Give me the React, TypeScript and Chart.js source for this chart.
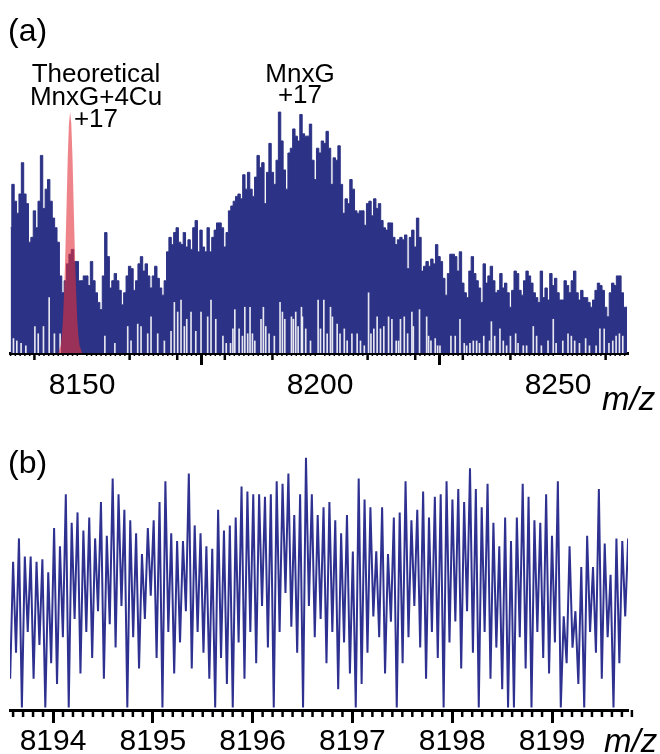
import React, { useEffect, useRef } from 'react';
import { Chart, registerables } from 'chart.js';
Chart.register(...registerables);

// ---------- Panel (a) data ----------
const aStart = 8135.0;
const aStep = 0.5;
const aEnvelope = [
  52, 70, 63, 58, 66, 79, 66, 62, 46, 48,
  59, 52, 63, 82, 60, 68, 72, 63, 56, 52,
  46, 32, 25, 30, 37, 41, 43, 38, 38, 30,
  30, 32, 32, 28, 38, 30, 25, 21, 18, 32,
  50, 40, 27, 30, 33, 30, 26, 20, 25, 32,
  36, 35, 26, 30, 37, 40, 34, 37, 32, 27,
  32, 36, 31, 27, 24, 30, 42, 48, 45, 50,
  52, 46, 45, 50, 44, 47, 43, 52, 55, 42,
  51, 44, 42, 52, 42, 48, 51, 54,
  54, 52, 44, 50, 59, 61, 63, 65, 66, 64, 74, 68,
  75, 68, 65, 73, 82, 77, 79, 62, 75, 87,
  75, 70, 80, 100, 88, 76, 68, 83, 85, 93,
  90, 88, 99, 91, 90, 90, 95, 80, 72, 85,
  83, 88, 87, 92, 85, 70, 81, 80, 86, 70,
  58, 64, 62, 72, 68, 59, 58, 59, 59, 53,
  62, 63, 57, 64, 60, 62, 55, 52, 51, 54,
  54, 48, 45, 47, 48, 47, 49, 35, 48, 51,
  44, 56, 48, 34,
  36, 38, 36, 39, 37, 45, 40, 38, 31, 24,
  33, 41, 41, 40, 34, 42, 29, 25, 23, 34,
  40, 33, 30, 27, 21, 37, 29, 32, 36, 30,
  25, 26, 33, 27, 29, 25, 19, 26, 34, 33,
  26, 24, 30, 34, 32, 29, 25, 23, 21, 34,
  23, 27, 22, 33, 28, 31, 25, 22, 22, 30,
  28, 25, 30, 34, 25, 22, 26, 23, 23, 21,
  19, 22, 26, 29, 28, 26, 19, 15, 25, 29,
  28, 32, 32, 25, 19, 19,
];
const aGapMz = [
  8135.6, 8136.3, 8137.2, 8138.2, 8140.1, 8140.8, 8141.9, 8143.1, 8144.2, 8145.4,
  8154.8, 8156.9, 8159.6, 8160.3, 8161.7, 8162.4, 8163.8, 8164.5, 8165.9, 8167.3,
  8168.7, 8169.4, 8170.1, 8170.8, 8171.5, 8172.0, 8172.9, 8173.9, 8175.0, 8176.4,
  8177.1, 8178.1, 8179.6, 8180.3, 8181.2, 8181.7, 8182.1, 8183.0, 8183.7, 8184.2,
  8184.8, 8185.3, 8185.8, 8186.3, 8187.6, 8188.1, 8188.6, 8189.3, 8190.4, 8191.6,
  8192.1, 8192.6, 8194.0, 8194.4, 8194.9, 8195.4, 8196.1, 8196.3, 8197.0, 8198.0,
  8199.6, 8200.1, 8200.8, 8201.5, 8202.2, 8202.6, 8203.6, 8204.2, 8205.1, 8205.7,
  8206.7, 8207.8, 8208.5, 8209.3, 8210.2, 8210.7, 8211.3, 8212.0, 8212.7, 8213.4,
  8214.4, 8215.1, 8216.0, 8216.5, 8216.9, 8217.7, 8218.4, 8219.3, 8219.6, 8220.9,
  8222.4, 8222.8, 8223.3, 8224.2, 8224.7, 8225.2, 8227.5, 8228.4, 8229.4, 8230.3,
  8230.8, 8231.5, 8232.2, 8232.9, 8233.5, 8234.4, 8235.6, 8236.0, 8236.7, 8237.8,
  8238.5, 8239.2, 8240.0, 8241.1, 8241.6, 8242.7, 8243.4, 8244.8, 8245.5, 8246.5,
  8247.9, 8249.0, 8249.6, 8251.0, 8252.1, 8252.8, 8253.5, 8254.5, 8255.8, 8256.6,
  8258.0, 8258.8, 8259.7, 8260.7, 8261.5, 8262.2, 8262.9, 8263.6,
];
const aGapH = [
  6, 5, 4, 3, 11, 8, 11, 23, 8, 8,
  7, 4, 11, 5, 12, 11, 8, 15, 8, 5,
  9, 21, 17, 22, 11, 14, 17, 9, 17, 15,
  22, 14, 7, 4, 4, 10, 18, 10, 7, 19,
  8, 19, 8, 5, 14, 19, 11, 8, 7, 21,
  17, 14, 15, 14, 17, 11, 19, 15, 10, 5,
  22, 10, 22, 8, 19, 15, 12, 8, 10, 5,
  8, 8, 5, 3, 25, 8, 10, 15, 10, 11,
  15, 14, 5, 5, 14, 15, 8, 17, 11, 18,
  15, 7, 5, 6, 3, 3, 7, 7, 14, 4,
  3, 4, 5, 5, 4, 7, 5, 13, 7, 10,
  5, 3, 7, 8, 4, 3, 3, 11, 7, 3,
  5, 14, 4, 5, 8, 7, 5, 4, 6, 3,
  3, 10, 10, 4, 5, 7, 8, 7,
];
const redMz = [
  8145.0, 8145.5, 8145.75, 8146.0, 8146.25, 8146.5, 8146.75, 8147.0, 8147.25, 8147.5,
  8147.75, 8148.0, 8148.25, 8148.5, 8148.75, 8149.0, 8149.25, 8149.5, 8150.0,
];
const redV = [0, 3, 7, 14, 26, 42, 61, 81, 95, 100, 95, 81, 61, 42, 26, 14, 7, 3, 0];
const aTickLabels = [8150, 8200, 8250];

// ---------- Panel (b) data ----------
const bStart = 8193.6;
const bStep = 0.05869;
const bLead = 12;
const bPeaks = [
  57, 66, 59, 59, 57, 58, 53, 70, 63, 83, 72, 76, 69, 74, 66, 80, 67, 89, 83, 77,
  73, 68, 60, 70, 73, 80, 88, 68, 65, 65, 91, 71, 68, 63, 62,
  77, 69, 71, 74, 86, 84, 83, 83, 82, 83, 88, 87, 91, 75, 83, 97, 83, 75, 78, 80,
  73, 68, 75, 61, 89, 81, 78, 61, 78, 60, 74, 76, 88, 73, 77, 84, 74,
  82, 83, 88, 81, 85, 80, 93, 85, 78, 87, 72, 63, 74, 65, 74, 87, 82, 73, 72, 83,
  67, 88, 36, 63, 38, 55, 67, 55, 85, 64, 52, 66, 65, 66,
];
const bTroughs = [
  22, 1, 30, 12, 25, 1, 18, 10, 28, 1,
  35, 14, 30, 20, 38, 12, 33, 24, 40, 1,
  28, 16, 35, 44, 20, 1, 30, 14, 26, 38,
  16, 30, 22, 12, 1, 20, 10, 1, 26, 12,
  30, 18, 40, 24, 1, 30, 45, 32, 22, 1,
  40, 28, 35, 18, 30, 8, 26, 14, 1, 10,
  22, 36, 28, 14, 34, 1, 18, 28, 40, 24,
  12, 30, 20, 1, 26, 34, 16, 38, 22, 1,
  30, 12, 24, 8, 1, 1, 28, 16, 1, 30,
  20, 14, 26, 1, 18, 24, 10, 1, 30, 22,
  12, 28, 1, 18, 36,
];
const bTickLabels = [8194, 8195, 8196, 8197, 8198, 8199];

const NAVY_A = '#2c3285';
const NAVY_B = '#2e3190';
const FONT = "'Liberation Sans', Arial, sans-serif";

if (typeof document !== 'undefined') document.body.style.margin = '0';

type TickGroup = { values: number[]; len: number; width: number };
const minorTicks = (groups: TickGroup[]) => ({
  id: 'minorTicks',
  afterDraw(chart: any) {
    const sx = chart.scales.x;
    const ctx = chart.ctx;
    const y0 = chart.chartArea.bottom;
    ctx.save();
    ctx.strokeStyle = '#000';
    for (const g of groups) {
      ctx.lineWidth = g.width;
      ctx.beginPath();
      for (const v of g.values) {
        const px = sx.getPixelForValue(v);
        ctx.moveTo(px, y0);
        ctx.lineTo(px, y0 + g.len);
      }
      ctx.stroke();
    }
    ctx.restore();
  },
});

function buildTicksA(): TickGroup[] {
  const tens: number[] = [];
  const ones: number[] = [];
  for (let v = 8135; v <= 8264; v++) {
    if (v % 10 === 0) {
      if (!aTickLabels.includes(v)) tens.push(v);
    } else ones.push(v);
  }
  return [
    { values: ones, len: 3, width: 1.5 },
    { values: tens, len: 7, width: 2.5 },
  ];
}
function buildTicksB(): TickGroup[] {
  const tenths: number[] = [];
  for (let i = 0; i <= 62; i++) {
    const v = Math.round((8193.6 + i * 0.1) * 10) / 10;
    if (Math.abs(v - Math.round(v)) > 1e-6) tenths.push(v);
  }
  return [{ values: tenths, len: 7, width: 2.5 }];
}

function PanelA() {
  const ref = useRef<HTMLCanvasElement>(null);
  useEffect(() => {
    const env = aEnvelope.map((v, k) => ({ x: aStart + k * aStep, y: v }));
    const gaps = aGapMz.map((m, i) => ({ x: m, y: aGapH[i] }));
    const red = redMz.map((m, i) => ({ x: m, y: redV[i] }));
    const chart = new Chart(ref.current!, {
      type: 'line',
      data: {
        datasets: [
          {
            type: 'line',
            data: env,
            borderColor: NAVY_A,
            backgroundColor: NAVY_A,
            borderWidth: 1,
            pointRadius: 0,
            tension: 0,
            stepped: 'middle',
            fill: 'origin',
            order: 3,
          } as any,
          {
            type: 'bar',
            data: gaps,
            backgroundColor: 'rgba(255,255,255,0.88)',
            borderWidth: 0,
            barThickness: 1,
            order: 2,
          } as any,
          {
            type: 'line',
            data: red,
            borderColor: 'rgba(226,48,58,0.6)',
            backgroundColor: 'rgba(226,48,58,0.6)',
            borderWidth: 0,
            pointRadius: 0,
            tension: 0,
            fill: 'origin',
            order: 1,
          } as any,
        ],
      },
      options: {
        animation: false,
        responsive: false,
        devicePixelRatio: 1,
        layout: { padding: { left: 10, right: 32, top: 100, bottom: 0 } },
        plugins: { legend: { display: false }, tooltip: { enabled: false } },
        scales: {
          x: {
            type: 'linear',
            min: 8134.87,
            max: 8264.7,
            offset: false,
            grid: { drawOnChartArea: false, drawTicks: true, tickLength: 12, tickWidth: 3, tickColor: '#000' },
            border: { display: true, width: 3, color: '#000' },
            ticks: {
              font: { family: FONT, size: 30 },
              color: '#000',
              padding: 3,
              maxRotation: 0,
              autoSkip: false,
              callback: (v: any) => String(v),
            },
            afterBuildTicks: (s: any) => {
              s.ticks = aTickLabels.map((v) => ({ value: v }));
            },
            afterFit: (s: any) => {
              s.height = 67;
            },
          },
          y: { display: false, min: 0, max: 105 },
        },
      },
      plugins: [minorTicks(buildTicksA())],
    } as any);
    return () => chart.destroy();
  }, []);
  return (
    <canvas ref={ref} width={660} height={420} style={{ position: 'absolute', left: 0, top: 0, width: 660, height: 420 }} />
  );
}

function PanelB() {
  const ref = useRef<HTMLCanvasElement>(null);
  useEffect(() => {
    const pts: { x: number; y: number }[] = [{ x: bStart - bStep / 2, y: bLead }];
    bPeaks.forEach((p, i) => {
      pts.push({ x: bStart + i * bStep, y: p });
      if (i < bTroughs.length) pts.push({ x: bStart + (i + 0.5) * bStep, y: bTroughs[i] });
    });
    const chart = new Chart(ref.current!, {
      type: 'line',
      data: {
        datasets: [
          {
            data: pts,
            borderColor: NAVY_B,
            borderWidth: 2,
            pointRadius: 0,
            tension: 0,
            fill: false,
          },
        ],
      },
      options: {
        animation: false,
        responsive: false,
        devicePixelRatio: 1,
        layout: { padding: { left: 10, right: 32, top: 50, bottom: 0 } },
        plugins: { legend: { display: false }, tooltip: { enabled: false } },
        scales: {
          x: {
            type: 'linear',
            min: 8193.569,
            max: 8199.761,
            offset: false,
            grid: { drawOnChartArea: false, drawTicks: true, tickLength: 13, tickWidth: 3, tickColor: '#000' },
            border: { display: true, width: 3, color: '#000' },
            ticks: {
              font: { family: FONT, size: 30 },
              color: '#000',
              padding: 1,
              maxRotation: 0,
              autoSkip: false,
              callback: (v: any) => String(v),
            },
            afterBuildTicks: (s: any) => {
              s.ticks = bTickLabels.map((v) => ({ value: v }));
            },
            afterFit: (s: any) => {
              s.height = 44;
            },
          },
          y: { display: false, min: 0, max: 100 },
        },
      },
      plugins: [minorTicks(buildTicksB())],
    } as any);
    return () => chart.destroy();
  }, []);
  return (
    <canvas ref={ref} width={660} height={354} style={{ position: 'absolute', left: 0, top: 400, width: 660, height: 354 }} />
  );
}

type Txt = { t: string; size: number; base: number; x: number; center?: boolean; italic?: boolean };
const texts: Txt[] = [
  { t: '(a)', size: 32, base: 41, x: 8 },
  { t: '(b)', size: 32, base: 473, x: 8 },
  { t: 'Theoretical', size: 26, base: 82, x: 96, center: true },
  { t: 'MnxG+4Cu', size: 26, base: 105, x: 96, center: true },
  { t: '+17', size: 26, base: 127, x: 96, center: true },
  { t: 'MnxG', size: 26, base: 82, x: 300, center: true },
  { t: '+17', size: 26, base: 103, x: 300, center: true },
  { t: 'm/z', size: 33, base: 410, x: 602, italic: true },
  { t: 'm/z', size: 33, base: 752, x: 604, italic: true },
];

export default function App() {
  return (
    <div style={{ position: 'relative', width: 660, height: 754, overflow: 'hidden', background: '#fff' }}>
      <PanelA />
      <PanelB />
      {texts.map((d, i) => (
        <div
          key={i}
          style={{
            position: 'absolute',
            top: d.base - 0.8465 * d.size,
            left: d.center ? d.x - 150 : d.x,
            width: d.center ? 300 : undefined,
            textAlign: d.center ? 'center' : 'left',
            fontFamily: FONT,
            fontSize: d.size,
            lineHeight: 1,
            fontStyle: d.italic ? 'italic' : 'normal',
            whiteSpace: 'nowrap',
            color: '#000',
          }}
        >
          {d.t}
        </div>
      ))}
    </div>
  );
}
